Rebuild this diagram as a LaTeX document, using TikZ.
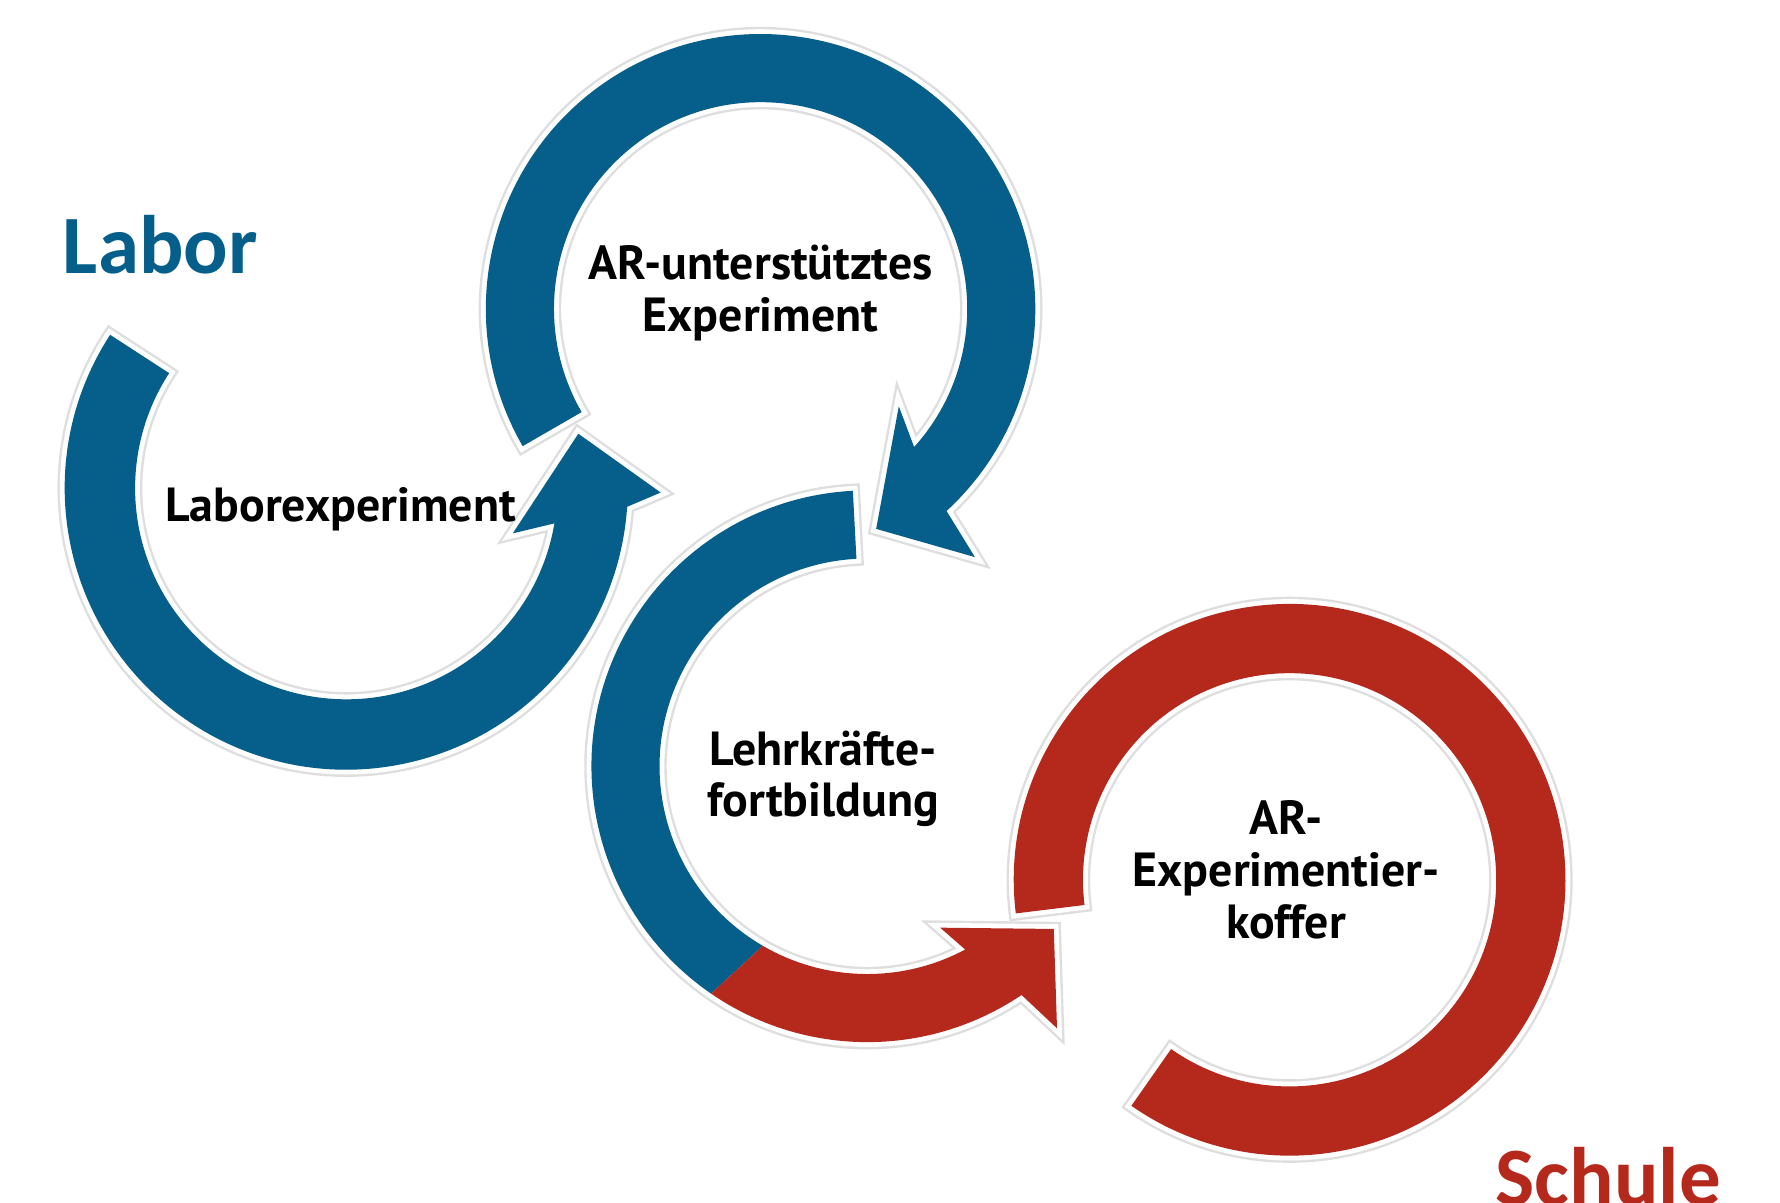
\documentclass[tikz,border=0pt]{standalone}
\usepackage{fontspec}
\setmainfont{PT Sans}
\newfontfamily\placefont{Carlito}
\definecolor{labor}{RGB}{6,95,138}
\definecolor{schule}{RGB}{181,40,28}
\tikzset{
  halo/.style={preaction={draw=black!13, line width=3.6pt},
               preaction={draw=white, line width=2.4pt}},
  steplabel/.style={font=\bfseries\fontsize{12}{13}\selectfont, align=center, text=black},
  placelabel/.style={font=\placefont\bfseries\fontsize{20.8}{24}\selectfont, anchor=base west}
}

\begin{document}
\begin{tikzpicture}
  \useasboundingbox (0,0) rectangle (15.68,-10.59);
  \clip (0,0) rectangle (15.68,-10.59);

  %% Laborexperiment
  \begin{scope}[shift={(3.05,-4.30)}]
    \fill[labor,halo] (147:2.48) arc[start angle=147, end angle=356.2, radius=2.48]
      -- (359.2:2.77) -- (13.2:2.10) -- (344.8:1.52) -- (350.4:1.86)
      arc[start angle=350.4, end angle=147, radius=1.86] -- cycle;
  \end{scope}

  %% AR-unterstuetztes Experiment
  \begin{scope}[shift={(6.70,-2.72)}]
    \fill[labor,halo] (210:2.42) arc[start angle=210, end angle=-47.4, radius=2.42]
      -- (-49.2:2.89) -- (-62.3:2.19) -- (-35.2:1.49) -- (-42:1.82)
      arc[start angle=-42, end angle=210, radius=1.82] -- cycle;
  \end{scope}

  %% Lehrkraeftefortbildung (blue turning red)
  \begin{scope}[shift={(7.64,-6.75)}]
    \path[halo] (93:2.43) arc[start angle=93, end angle=304, radius=2.43]
      -- (305.9:2.85) -- (318.9:2.18) -- (294.3:1.56) -- (298.1:1.83)
      arc[start angle=298.1, end angle=93, radius=1.83] -- cycle;
    \fill[labor] (93:2.43) arc[start angle=93, end angle=235.5, radius=2.43]
      -- (239.8:1.83) arc[start angle=239.8, end angle=93, radius=1.83] -- cycle;
    \fill[schule] (235.5:2.43) arc[start angle=235.5, end angle=304, radius=2.43]
      -- (305.9:2.85) -- (318.9:2.18) -- (294.3:1.56) -- (298.1:1.83)
      arc[start angle=298.1, end angle=239.8, radius=1.83] -- cycle;
  \end{scope}

  %% AR-Experimentierkoffer
  \begin{scope}[shift={(11.36,-7.75)}]
    \fill[schule,halo] (187:2.43) arc[start angle=187, end angle=-125, radius=2.43]
      -- (-125:1.82) arc[start angle=-125, end angle=187, radius=1.82] -- cycle;
  \end{scope}

  %% Labels
  \node[steplabel] (arexp) at (6.70,-2.58) {AR-unterstütztes\\Experiment};
  \node[steplabel] (laborexp) at (3.00,-4.49) {Laborexperiment};
  \node[steplabel] (fortbildung) at (7.25,-6.86) {Lehrkräfte-\\fortbildung};
  \node[steplabel] (koffer) at (11.33,-7.66) {AR-\\Experimentier-\\koffer};

  \node[placelabel, text=labor] (labor) at (0.43,-2.41) {Labor};
  \node[placelabel, text=schule] (schule) at (13.05,-10.62) {Schule};
\end{tikzpicture}
\end{document}
